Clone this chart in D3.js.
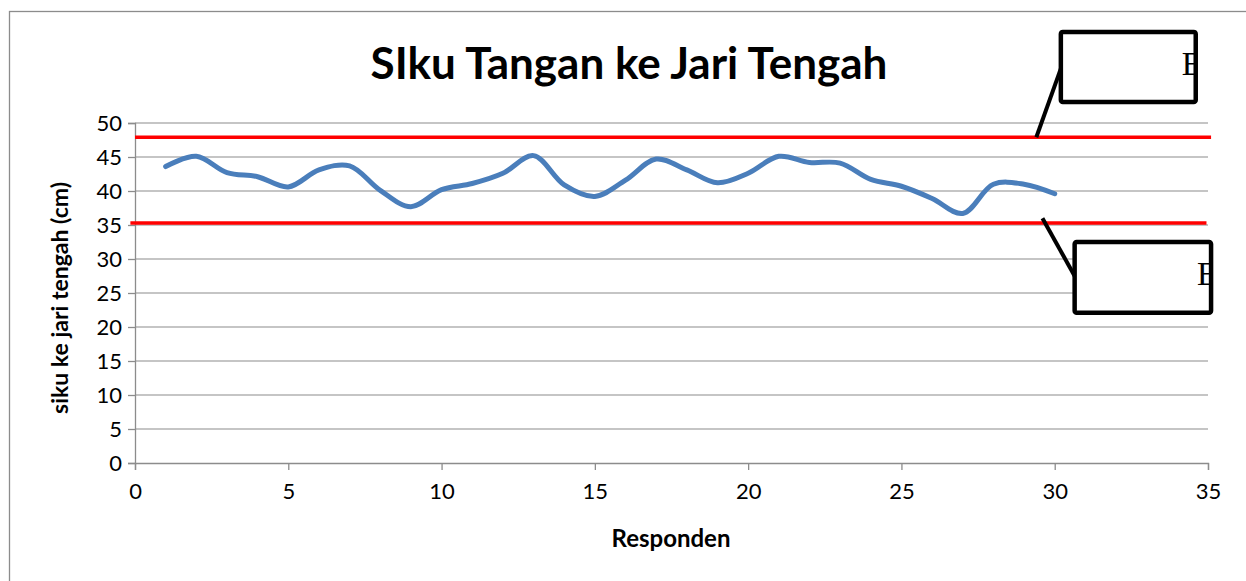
<!DOCTYPE html>
<html>
<head>
<meta charset="utf-8">
<script src="https://cdn.jsdelivr.net/npm/d3@7"></script>
<style>
  body { margin: 0; background: #fff; }
  svg { display: block; }
  .tick text { font-family: Lato, "Open Sans", sans-serif; }
</style>
</head>
<body>
<div id="chart"></div>
<script>
// data
var responden = [1, 2, 3, 4, 5, 6, 7, 8, 9, 10, 11, 12, 13, 14, 15,
  16, 17, 18, 19, 20, 21, 22, 23, 24, 25, 26, 27, 28, 29, 30];
var panjang = [43.6, 45.1, 42.7, 42.1, 40.6, 43.1, 43.7, 40.1, 37.7, 40.2,
  41.1, 42.6, 45.2, 40.9, 39.2, 41.6, 44.7, 43.1, 41.2, 42.6,
  45.1, 44.2, 44.1, 41.7, 40.7, 38.9, 36.7, 41.0, 41.0, 39.6];
var batasAtas = 47.9;
var batasBawah = 35.3;
var xTicks = [0, 5, 10, 15, 20, 25, 30, 35];
var yTicks = [0, 5, 10, 15, 20, 25, 30, 35, 40, 45, 50];
// callout boxes (data coords: x0, x1, yTop, yBottom) and their leader lines
var calloutBoxes = [[30.2, 34.6, 63.4, 53.1], [30.65, 35.1, 32.5, 22.1]];
var calloutLeaders = [[[30.2, 58.0], [29.4, 47.9]], [[29.6, 36.0], [30.65, 27.5]]];
var calloutText = ["E", "E"];

var W = 1246, H = 581;
var margin = { top: 123, right: 38, bottom: 118, left: 135 },
  width = W - margin.left - margin.right,
  height = H - margin.top - margin.bottom;

var root = d3.select("#chart").append("svg")
  .attr("width", W)
  .attr("height", H);

// outer chart border (runs off the right and bottom edges)
root.append("rect")
  .attr("x", 9.5).attr("y", 11.5)
  .attr("width", W).attr("height", H)
  .attr("fill", "none")
  .attr("stroke", "#8c8c8c")
  .attr("stroke-width", 1.3);

var svg = root.append("g")
  .attr("transform", "translate(" + margin.left + "," + margin.top + ")");

var x = d3.scaleLinear().domain([0, 35]).range([0, width]);
var y = d3.scaleLinear().domain([0, 50]).range([height, 0]);

// gridlines
svg.append("g")
  .selectAll("line")
  .data(yTicks.slice(1))
  .enter()
  .append("line")
  .attr("x1", 0)
  .attr("x2", width)
  .attr("y1", function (d) { return y(d); })
  .attr("y2", function (d) { return y(d); })
  .attr("stroke", "#8c8c8c")
  .attr("stroke-width", 1.2);

// Y axis
var yAxis = svg.append("g")
  .call(d3.axisLeft(y).tickValues(yTicks).tickSize(7).tickPadding(6));
yAxis.select(".domain").attr("stroke", "#8c8c8c").attr("stroke-width", 1.3);
yAxis.selectAll(".tick line").attr("stroke", "#8c8c8c").attr("stroke-width", 1.3);
yAxis.selectAll(".tick text").attr("font-size", 22).attr("fill", "#000");

// X axis
var xAxis = svg.append("g")
  .attr("transform", "translate(0," + height + ")")
  .call(d3.axisBottom(x).tickValues(xTicks).tickSize(7).tickPadding(13));
xAxis.select(".domain").attr("stroke", "#8c8c8c").attr("stroke-width", 1.3);
xAxis.selectAll(".tick line").attr("stroke", "#8c8c8c").attr("stroke-width", 1.3);
xAxis.selectAll(".tick text").attr("font-size", 22).attr("fill", "#000");

// control limit lines
svg.selectAll(".limit")
  .data([batasAtas, batasBawah])
  .enter()
  .append("line")
  .attr("class", "limit")
  .attr("x1", function (d, i) { return i === 0 ? x(0) : x(-0.15); })
  .attr("x2", function (d, i) { return i === 0 ? x(35.1) : x(34.95); })
  .attr("y1", function (d) { return y(d); })
  .attr("y2", function (d) { return y(d); })
  .attr("stroke", "#ff0000")
  .attr("stroke-width", 3.5);

// data line
var line = d3.line()
  .x(function (d, i) { return x(responden[i]); })
  .y(function (d) { return y(d); })
  .curve(d3.curveCatmullRom.alpha(0.5));

svg.append("path")
  .datum(panjang)
  .attr("fill", "none")
  .attr("stroke", "#4a7ebb")
  .attr("stroke-width", 5)
  .attr("stroke-linecap", "round")
  .attr("stroke-linejoin", "round")
  .attr("d", line);

// callouts
svg.selectAll(".leader")
  .data(calloutLeaders)
  .enter()
  .append("line")
  .attr("class", "leader")
  .attr("x1", function (d) { return x(d[0][0]); })
  .attr("y1", function (d) { return y(d[0][1]); })
  .attr("x2", function (d) { return x(d[1][0]); })
  .attr("y2", function (d) { return y(d[1][1]); })
  .attr("stroke", "#000")
  .attr("stroke-width", 4);

var defs = root.append("defs");
calloutBoxes.forEach(function (b, i) {
  defs.append("clipPath")
    .attr("id", "clip" + i)
    .append("rect")
    .attr("x", x(b[0]))
    .attr("y", y(b[2]))
    .attr("width", x(b[1]) - x(b[0]))
    .attr("height", y(b[3]) - y(b[2]));
});

var box = svg.selectAll(".callout")
  .data(calloutBoxes)
  .enter()
  .append("g")
  .attr("class", "callout");

box.append("rect")
  .attr("x", function (d) { return x(d[0]); })
  .attr("y", function (d) { return y(d[2]); })
  .attr("width", function (d) { return x(d[1]) - x(d[0]); })
  .attr("height", function (d) { return y(d[3]) - y(d[2]); })
  .attr("rx", 2)
  .attr("fill", "#fff")
  .attr("stroke", "#000")
  .attr("stroke-width", 4.5);

box.append("text")
  .attr("clip-path", function (d, i) { return "url(#clip" + i + ")"; })
  .attr("x", function (d) { return x(d[1]) - 14; })
  .attr("y", function (d) { return y(d[2]) + 43; })
  .attr("font-family", "'Liberation Serif', serif")
  .attr("font-size", 33)
  .text(function (d, i) { return calloutText[i]; });

// title
root.append("text")
  .attr("x", 629)
  .attr("y", 79)
  .attr("text-anchor", "middle")
  .attr("font-family", "Lato, 'Open Sans', sans-serif")
  .attr("font-weight", "bold")
  .attr("font-size", 44)
  .text("SIku Tangan ke Jari Tengah");

// x axis label
root.append("text")
  .attr("x", 671)
  .attr("y", 547)
  .attr("text-anchor", "middle")
  .attr("font-family", "Lato, 'Open Sans', sans-serif")
  .attr("font-weight", "bold")
  .attr("font-size", 24)
  .text("Responden");

// y axis label
root.append("text")
  .attr("transform", "translate(68," + (margin.top + height / 2 + 5) + ") rotate(-90)")
  .attr("text-anchor", "middle")
  .attr("font-family", "Lato, 'Open Sans', sans-serif")
  .attr("font-weight", "bold")
  .attr("font-size", 23)
  .text("siku ke jari tengah (cm)");
</script>
</body>
</html>
